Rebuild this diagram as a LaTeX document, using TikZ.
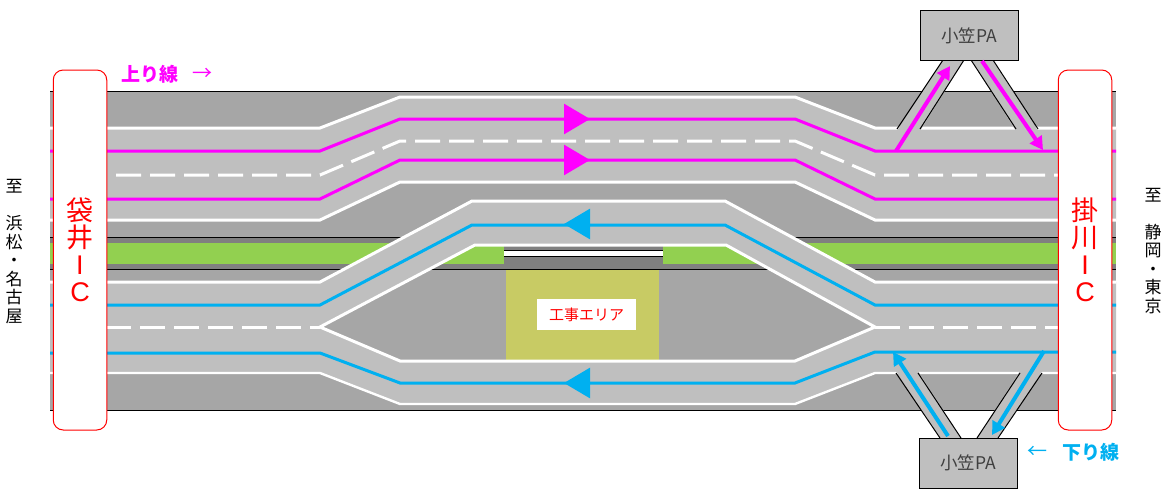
\documentclass[tikz,border=0pt]{standalone}
\usepackage{fontspec}
\usepackage{tikz}
\usetikzlibrary{arrows.meta, positioning, calc}
\newfontfamily\jpfont{Noto Sans CJK JP}
\newfontfamily\icfont{Liberation Sans}
\definecolor{shoulder}{HTML}{A6A6A6}
\definecolor{roadgray}{HTML}{BFBFBF}
\definecolor{median}{HTML}{808080}
\definecolor{grass}{HTML}{92D050}
\definecolor{worksite}{HTML}{C8CB64}
\definecolor{upline}{HTML}{FF00FF}
\definecolor{downline}{HTML}{00B0F0}

\begin{document}
\begin{tikzpicture}[
  x=1pt, y=-1pt,
  edgeline/.style = {white, line width=3pt},
  thinedge/.style = {white, line width=2.4pt},
  laneline/.style = {white, line width=3pt, dash pattern=on 25pt off 9pt},
  upcourse/.style = {upline, line width=3pt},
  downcourse/.style = {downline, line width=3pt},
  uparrow/.style = {upline, line width=4pt, -{Triangle[length=13pt,width=14pt]}},
  downarrow/.style = {downline, line width=4pt, -{Triangle[length=13pt,width=14pt]}},
  upbig/.style = {upline, line width=2.8pt, -{Triangle[length=26pt,width=30pt]}},
  downbig/.style = {downline, line width=2.8pt, -{Triangle[length=26pt,width=30pt]}},
  icbox/.style = {draw=red, fill=white, rounded corners=10pt, text=red, inner sep=0pt, line width=1pt,
    minimum width=53.5pt, minimum height=360pt},
  pabox/.style = {draw, fill=roadgray, line width=1pt, minimum width=98pt, minimum height=50pt, inner sep=0pt,
    text=black!75, font=\jpfont\fontsize{17.5}{18}\selectfont},
  ramp/.style = {fill=roadgray},
  rampedge/.style = {black, line width=1pt},
  placetext/.style = {align=center, inner sep=0pt, font=\jpfont\fontsize{17}{18.5}\selectfont},
  icletters/.style = {align=center, font=\jpfont\fontsize{27}{27}\selectfont}
]
  \useasboundingbox (0,0) rectangle (1164,496);

  % Ground and median
  \fill[shoulder] (50,91) rectangle (1116,410);
  \draw[black, line width=0.8pt] (50,91) -- (1116,91);
  \draw[black, line width=1pt] (50,410) -- (1116,410);
  \fill[median] (50,237) rectangle (1116,269);
  \fill[grass] (50,243) rectangle (504,264);
  \fill[grass] (663,243) rectangle (1116,264);
  \fill[white] (504,250) rectangle (663,256);
  \draw[black, line width=0.8pt] (504,250.5) -- (663,250.5);
  \draw[black, line width=0.8pt] (504,256.5) -- (663,256.5);
  \draw[black, line width=0.8pt] (50,237) -- (1116,237);
  \draw[black, line width=0.8pt] (50,269.5) -- (1116,269.5);

  % Work area
  \fill[worksite] (506,270) rectangle (659,360);
  \node[fill=white, text=red, minimum width=99pt, minimum height=31pt, inner sep=0pt,
    font=\jpfont\fontsize{15}{15}\selectfont] (works) at (586.5,314.5) {工事エリア};

  % Carriageways
  \fill[roadgray] (50,128) -- (320,128) -- (400,97) -- (795,97) -- (875,128) -- (1116,128)
    -- (1116,220) -- (875,220) -- (795,182) -- (400,182) -- (320,220) -- (50,220) -- cycle;
  \fill[roadgray, even odd rule] (50,282) -- (320,282) -- (472,201) -- (725,201) -- (875,282) -- (1116,282)
    -- (1116,373) -- (875,373) -- (795,404) -- (400,404) -- (320,373) -- (50,373) -- cycle
    (320,327) -- (475,245) -- (726,245) -- (875,327) -- (795,361) -- (400,361) -- cycle;

  % White lines
  \draw[edgeline] (50,128) -- (320,128) -- (400,97) -- (795,97) -- (875,128) -- (1116,128);
  \draw[edgeline] (50,220) -- (320,220) -- (400,182) -- (795,182) -- (875,220) -- (1116,220);
  \draw[edgeline] (50,282) -- (320,282) -- (472,201) -- (725,201) -- (875,282) -- (1116,282);
  \draw[thinedge] (50,373) -- (320,373) -- (400,404) -- (795,404) -- (875,373) -- (1116,373);
  \draw[edgeline, line join=miter] (320,327) -- (475,245) -- (726,245) -- (875,327) -- (795,361) -- (400,361) -- cycle;
  \draw[laneline] (116,175) -- (320,175) -- (400,141) -- (795,141) -- (875,175) -- (1060,175);
  \draw[laneline] (106,327) -- (320,327);
  \draw[laneline] (875,327) -- (1060,327);

  % Service area ramps
  \fill[ramp] (897,131) -- (943,60) -- (964,60) -- (920,131) -- cycle;
  \fill[ramp] (971,60) -- (993,60) -- (1038,131) -- (1016,131) -- cycle;
  \fill[ramp] (896,371) -- (940,438) -- (961,438) -- (918,371) -- cycle;
  \fill[ramp] (1020,371) -- (977,438) -- (998,438) -- (1042,371) -- cycle;
  \draw[rampedge] (897,129) -- (943,60);
  \draw[rampedge] (920,129) -- (964,60);
  \draw[rampedge] (971,60) -- (1016,129);
  \draw[rampedge] (993,60) -- (1038,129);
  \draw[rampedge] (896,373) -- (940,438);
  \draw[rampedge] (918,373) -- (961,438);
  \draw[rampedge] (1020,373) -- (977,438);
  \draw[rampedge] (1042,373) -- (998,438);

  % Courses
  \draw[upcourse] (50,151) -- (320,151) -- (400,119) -- (795,119) -- (875,151) -- (1116,151);
  \draw[upcourse] (50,199) -- (320,199) -- (400,160) -- (795,160) -- (875,199) -- (1116,199);
  \draw[downcourse] (50,305) -- (320,305) -- (472,225) -- (725,225) -- (875,305) -- (1116,305);
  \draw[downcourse] (50,353) -- (320,353) -- (400,383) -- (795,383) -- (875,352) -- (1116,352);
  \draw[upbig] (564,119) -- (590,119);
  \draw[upbig] (564,160) -- (590,160);
  \draw[downbig] (589,224) -- (564,224);
  \draw[downbig] (589,383) -- (564,383);

  % Nodes
  \node[pabox] (panorth) at (969,35.5) {小笠PA};
  \node[pabox] (pasouth) at (968,463) {小笠PA};
  \node[icbox] (icwest) at (80,250) {};
  \node[icbox] (iceast) at (1085,250) {};
  \node[icletters, text=red] (westname) at (80,249.5) {袋\\井\\{\icfont I}\\{\icfont C}};
  \node[icletters, text=red] (eastname) at (1085,249.5) {掛\\川\\{\icfont I}\\{\icfont C}};
  \node[placetext] (westplace) at (14,251.5) {至\\[18.5pt]浜\\松\\・\\名\\古\\屋};
  \node[placetext] (eastplace) at (1153,251) {至\\[18.5pt]静\\岡\\・\\東\\京};

  % Ramp arrows
  \coordinate (upout) at (896,151);
  \coordinate (upmerge) at (1043,150);
  \coordinate (downin) at (1044,351);
  \coordinate (downmerge) at (893,352);
  \draw[uparrow] (upout) -- (950,66);
  \draw[uparrow] (982,61) -- (upmerge);
  \draw[downarrow] (downin) -- (992,435);
  \draw[downarrow] (948,436) -- (downmerge);

  % Direction labels
  \node[text=upline, inner sep=0pt, anchor=west, font=\jpfont\bfseries\fontsize{19}{19}\selectfont] (uplabel) at (121,74) {上り線};
  \node[text=upline, inner sep=0pt, right=14pt of uplabel, font=\jpfont\fontsize{20}{20}\selectfont] (uparrowmark) {→};
  \node[text=downline, inner sep=0pt, anchor=west, font=\jpfont\bfseries\fontsize{19}{19}\selectfont] (downlabel) at (1062,452) {下り線};
  \node[text=downline, inner sep=0pt, left=14pt of downlabel, font=\jpfont\fontsize{20}{20}\selectfont] (downarrowmark) {←};
\end{tikzpicture}
\end{document}
